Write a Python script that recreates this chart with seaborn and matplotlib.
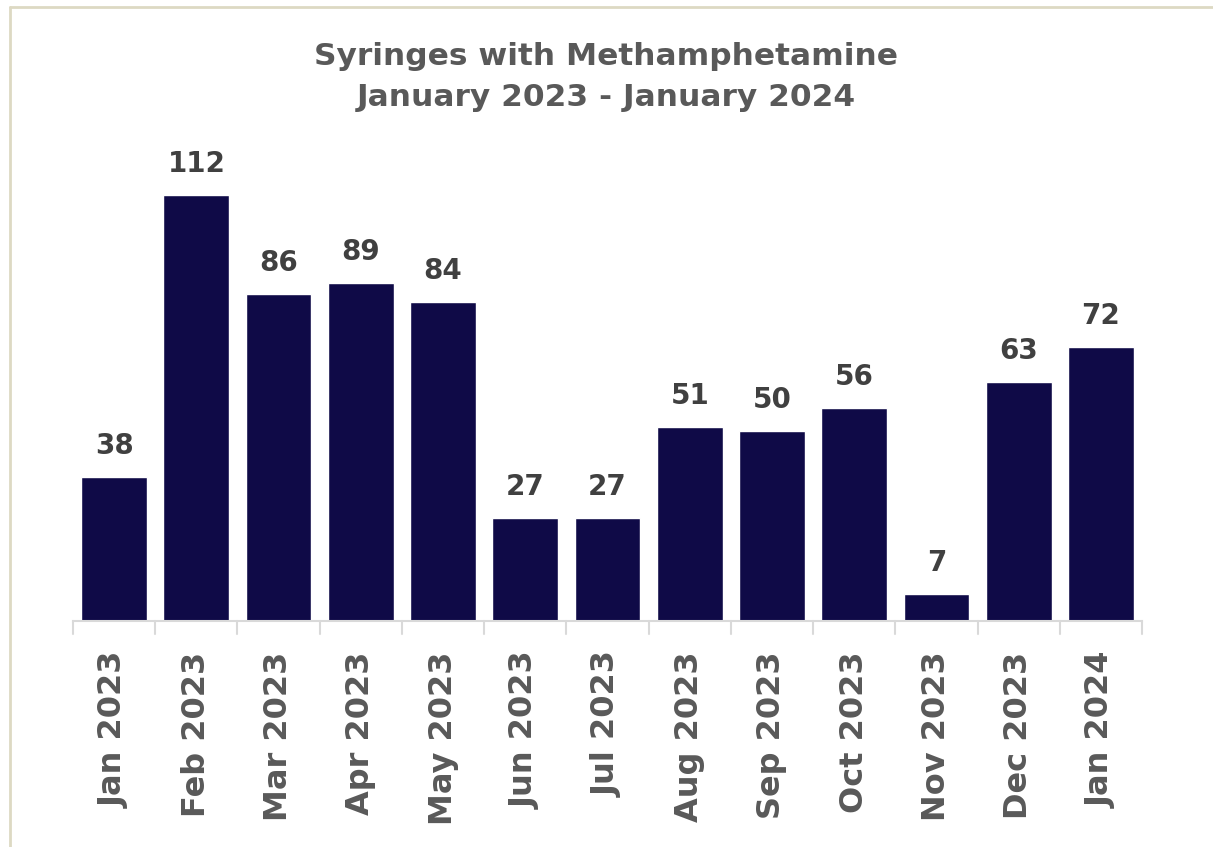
import numpy as np
import pandas as pd
import matplotlib
matplotlib.use("Agg")
import matplotlib.pyplot as plt
import seaborn as sns
from matplotlib.lines import Line2D

# datos del gráfico
meses = ["Jan 2023", "Feb 2023", "Mar 2023", "Apr 2023", "May 2023", "Jun 2023",
         "Jul 2023", "Aug 2023", "Sep 2023", "Oct 2023", "Nov 2023", "Dec 2023",
         "Jan 2024"]
jeringas = [38, 112, 86, 89, 84, 27, 27, 51, 50, 56, 7, 63, 72]

df = pd.DataFrame({"mes": meses, "valor": jeringas})

sns.set_theme(style="white")
plt.rcParams["font.family"] = ["DejaVu Sans"]

fig = plt.figure(figsize=(12.13, 8.47), dpi=100)
ax = fig.add_axes([73 / 1213, 1 - 621 / 847, (1142 - 73) / 1213, (621 - 165) / 847])

sns.barplot(data=df, x="mes", y="valor", color="#0F0A47", saturation=1,
            width=0.8, ax=ax)

ax.set_ylim(0, 120)
ax.set_xlim(-0.5, len(meses) - 0.5)
ax.set_xlabel("")
ax.set_ylabel("")
ax.set_yticks([])
for s in ["top", "right", "left"]:
    ax.spines[s].set_visible(False)
ax.spines["bottom"].set_color("#D9D9D9")
ax.spines["bottom"].set_linewidth(1.5)

# ticks entre categorias (estilo Excel)
ax.set_xticks(np.arange(len(meses)))
ax.set_xticklabels(meses, rotation=90, fontsize=23, fontweight="bold", color="#595959")
ax.tick_params(axis="x", length=0, pad=22)
for b in np.arange(-0.5, len(meses), 1.0):
    ax.plot([b, b], [0, -0.028], transform=ax.get_xaxis_transform(),
            color="#D9D9D9", lw=1.5, clip_on=False)

for i, v in enumerate(jeringas):
    ax.text(i, v + 4.5, str(v), ha="center", va="bottom", fontsize=20,
            fontweight="bold", color="#404040")

fig.text(0.5, 1 - 77 / 847, "Syringes with Methamphetamine\nJanuary 2023 - January 2024",
         ha="center", va="center", fontsize=22.5, fontweight="bold",
         color="#595959", linespacing=1.55)

# borde del grafico
fig.add_artist(Line2D([10 / 1213, 1], [1 - 7 / 847, 1 - 7 / 847],
                      transform=fig.transFigure, color="#DDD9C3", lw=2))
fig.add_artist(Line2D([10 / 1213, 10 / 1213], [0, 1 - 7 / 847],
                      transform=fig.transFigure, color="#DDD9C3", lw=2))

fig.savefig("out.png", dpi=100)
